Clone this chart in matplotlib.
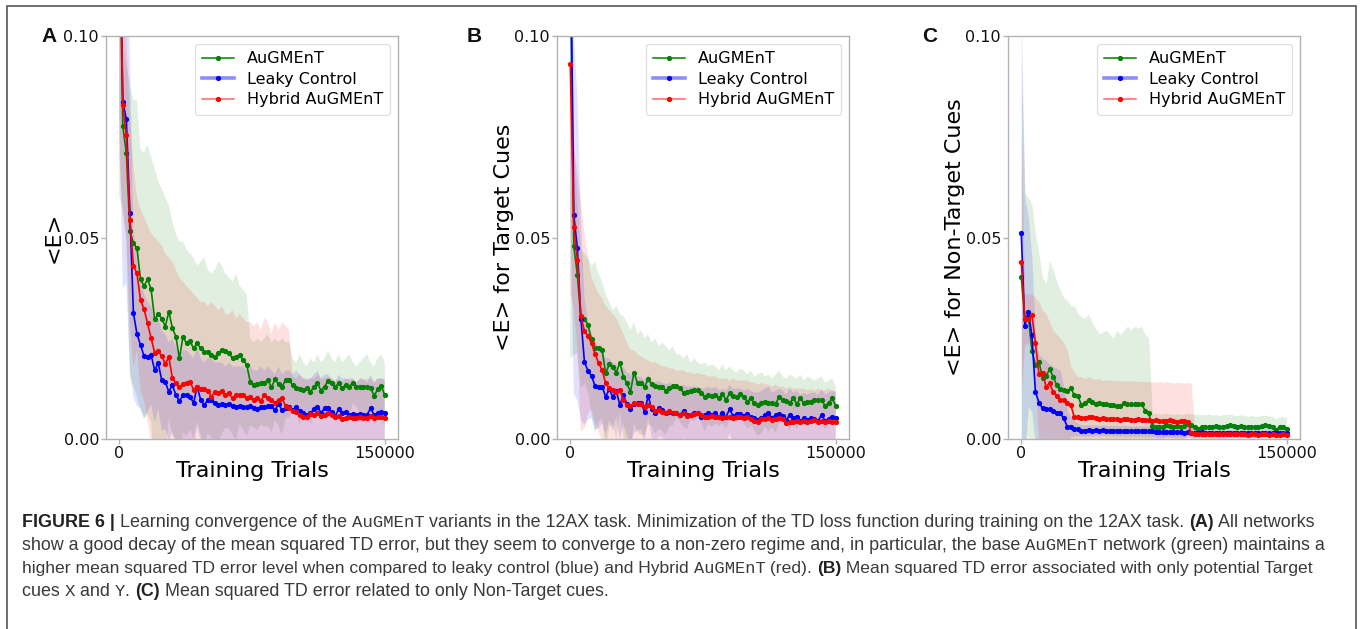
import numpy as np
import matplotlib
matplotlib.use("Agg")
import matplotlib.pyplot as plt
from matplotlib.lines import Line2D
from matplotlib.patches import Rectangle

# ---------------- data ----------------
trials = list(range(0, 150001, 2000))  # 76 evaluation points

# Panel A : <E>
a_green = [0.130, 0.0777, 0.0709, 0.0516, 0.0486, 0.0473, 0.0396, 0.0380, 0.0396, 0.0371,
           0.0297, 0.0310, 0.0299, 0.0279, 0.0316, 0.0275, 0.0254, 0.0200, 0.0254, 0.0237,
           0.0242, 0.0225, 0.0237, 0.0225, 0.0217, 0.0217, 0.0208, 0.0203, 0.0213, 0.0222,
           0.0219, 0.0213, 0.0200, 0.0204, 0.0208, 0.0196, 0.0184, 0.0142, 0.0134, 0.0136,
           0.0138, 0.0140, 0.0146, 0.0128, 0.0148, 0.0136, 0.0130, 0.0146, 0.0146, 0.0134,
           0.0126, 0.0123, 0.0122, 0.0126, 0.0117, 0.0130, 0.0138, 0.0120, 0.0130, 0.0145,
           0.0138, 0.0130, 0.0138, 0.0126, 0.0134, 0.0130, 0.0140, 0.0130, 0.0128, 0.0128,
           0.0128, 0.0127, 0.0107, 0.0123, 0.0132, 0.0109]
a_blue = [0.140, 0.0837, 0.0793, 0.0562, 0.0312, 0.0261, 0.0233, 0.0206, 0.0204, 0.0208,
          0.0171, 0.0188, 0.0146, 0.0142, 0.0117, 0.0134, 0.0109, 0.0094, 0.0109, 0.0109,
          0.0105, 0.0089, 0.0130, 0.0097, 0.0084, 0.0097, 0.0098, 0.0089, 0.0084, 0.0086,
          0.0084, 0.0087, 0.0082, 0.0079, 0.0082, 0.0079, 0.0079, 0.0082, 0.0076, 0.0074,
          0.0079, 0.0080, 0.0082, 0.0082, 0.0072, 0.0087, 0.0072, 0.0076, 0.0079, 0.0072,
          0.0079, 0.0070, 0.0065, 0.0060, 0.0064, 0.0074, 0.0080, 0.0065, 0.0076, 0.0076,
          0.0068, 0.0057, 0.0074, 0.0064, 0.0068, 0.0060, 0.0062, 0.0060, 0.0062, 0.0060,
          0.0060, 0.0076, 0.0060, 0.0064, 0.0068, 0.0064]
a_red = [0.135, 0.0829, 0.0754, 0.0543, 0.0429, 0.0411, 0.0345, 0.0322, 0.0287, 0.0250,
         0.0214, 0.0218, 0.0206, 0.0186, 0.0204, 0.0151, 0.0138, 0.0128, 0.0136, 0.0138,
         0.0142, 0.0122, 0.0130, 0.0123, 0.0123, 0.0120, 0.0105, 0.0117, 0.0115, 0.0120,
         0.0109, 0.0113, 0.0101, 0.0109, 0.0109, 0.0109, 0.0101, 0.0104, 0.0097, 0.0101,
         0.0095, 0.0109, 0.0101, 0.0097, 0.0089, 0.0097, 0.0101, 0.0082, 0.0076, 0.0070,
         0.0068, 0.0060, 0.0055, 0.0055, 0.0062, 0.0060, 0.0065, 0.0057, 0.0060, 0.0064,
         0.0060, 0.0055, 0.0057, 0.0049, 0.0053, 0.0055, 0.0051, 0.0053, 0.0055, 0.0051,
         0.0051, 0.0057, 0.0051, 0.0055, 0.0055, 0.0051]
# upper edge of the +/- std band
a_green_hi = [0.200, 0.098, 0.093, 0.088, 0.084, 0.084, 0.072, 0.071, 0.073, 0.070,
              0.067, 0.064, 0.062, 0.060, 0.058, 0.054, 0.051, 0.049, 0.049, 0.047,
              0.046, 0.045, 0.043, 0.044, 0.045, 0.042, 0.041, 0.042, 0.044, 0.043,
              0.041, 0.040, 0.039, 0.041, 0.038, 0.037, 0.036, 0.025, 0.024, 0.025,
              0.024, 0.025, 0.026, 0.024, 0.025, 0.024, 0.025, 0.024, 0.024, 0.020,
              0.019, 0.021, 0.019, 0.018, 0.020, 0.019, 0.021, 0.019, 0.020, 0.022,
              0.020, 0.019, 0.021, 0.019, 0.020, 0.021, 0.019, 0.018, 0.019, 0.020,
              0.021, 0.019, 0.018, 0.020, 0.021, 0.019]
a_blue_hi = [0.200, 0.130, 0.120, 0.095, 0.052, 0.044, 0.039, 0.036, 0.034, 0.033,
             0.030, 0.030, 0.027, 0.026, 0.024, 0.025, 0.023, 0.021, 0.022, 0.022,
             0.021, 0.020, 0.023, 0.020, 0.019, 0.020, 0.020, 0.019, 0.019, 0.019,
             0.018, 0.019, 0.018, 0.018, 0.018, 0.018, 0.017, 0.018, 0.017, 0.017,
             0.018, 0.017, 0.018, 0.017, 0.016, 0.018, 0.016, 0.017, 0.017, 0.016,
             0.017, 0.016, 0.015, 0.015, 0.015, 0.016, 0.017, 0.015, 0.016, 0.016,
             0.015, 0.014, 0.016, 0.015, 0.015, 0.015, 0.015, 0.014, 0.015, 0.015,
             0.014, 0.016, 0.014, 0.015, 0.015, 0.015]
a_red_hi = [0.200, 0.110, 0.100, 0.080, 0.068, 0.060, 0.057, 0.055, 0.053, 0.051,
            0.050, 0.049, 0.048, 0.046, 0.045, 0.044, 0.042, 0.040, 0.039, 0.038,
            0.037, 0.036, 0.035, 0.034, 0.034, 0.033, 0.034, 0.033, 0.032, 0.033,
            0.031, 0.031, 0.032, 0.030, 0.031, 0.030, 0.029, 0.029, 0.028, 0.029,
            0.027, 0.030, 0.029, 0.026, 0.029, 0.027, 0.029, 0.028, 0.027, 0.0155,
            0.015, 0.016, 0.015, 0.0145, 0.015, 0.015, 0.016, 0.015, 0.015, 0.0155,
            0.015, 0.0145, 0.015, 0.014, 0.015, 0.0145, 0.015, 0.014, 0.015, 0.0145,
            0.015, 0.015, 0.014, 0.015, 0.015, 0.0145]

# Panel B : <E> for Target Cues
b_green = [0.120, 0.0479, 0.0407, 0.0298, 0.0299, 0.0283, 0.0247, 0.0227, 0.0227, 0.0221,
           0.0163, 0.0185, 0.0179, 0.0165, 0.0189, 0.0155, 0.0138, 0.0117, 0.0165, 0.0138,
           0.0140, 0.0130, 0.0148, 0.0136, 0.0132, 0.0128, 0.0130, 0.0120, 0.0126, 0.0132,
           0.0132, 0.0126, 0.0115, 0.0117, 0.0120, 0.0122, 0.0122, 0.0113, 0.0105, 0.0109,
           0.0107, 0.0109, 0.0101, 0.0112, 0.0097, 0.0113, 0.0107, 0.0103, 0.0112, 0.0105,
           0.0093, 0.0101, 0.0089, 0.0084, 0.0089, 0.0093, 0.0089, 0.0090, 0.0087, 0.0105,
           0.0098, 0.0095, 0.0090, 0.0101, 0.0087, 0.0101, 0.0089, 0.0093, 0.0093, 0.0098,
           0.0097, 0.0097, 0.0082, 0.0089, 0.0101, 0.0082]
b_blue = [0.130, 0.0556, 0.0473, 0.0299, 0.0192, 0.0169, 0.0156, 0.0132, 0.0128, 0.0130,
          0.0105, 0.0123, 0.0105, 0.0120, 0.0084, 0.0109, 0.0087, 0.0074, 0.0087, 0.0089,
          0.0089, 0.0068, 0.0107, 0.0074, 0.0064, 0.0076, 0.0072, 0.0064, 0.0068, 0.0064,
          0.0064, 0.0060, 0.0070, 0.0060, 0.0060, 0.0064, 0.0065, 0.0054, 0.0060, 0.0064,
          0.0060, 0.0064, 0.0055, 0.0064, 0.0055, 0.0074, 0.0057, 0.0062, 0.0062, 0.0057,
          0.0062, 0.0054, 0.0051, 0.0047, 0.0051, 0.0060, 0.0064, 0.0051, 0.0060, 0.0062,
          0.0057, 0.0047, 0.0060, 0.0051, 0.0055, 0.0045, 0.0051, 0.0047, 0.0051, 0.0049,
          0.0045, 0.0060, 0.0045, 0.0049, 0.0054, 0.0051]
b_red = [0.0931, 0.0527, 0.0444, 0.0304, 0.0268, 0.0256, 0.0237, 0.0211, 0.0189, 0.0171,
         0.0138, 0.0126, 0.0122, 0.0117, 0.0122, 0.0097, 0.0084, 0.0082, 0.0089, 0.0087,
         0.0087, 0.0080, 0.0084, 0.0080, 0.0070, 0.0072, 0.0068, 0.0064, 0.0070, 0.0064,
         0.0065, 0.0060, 0.0064, 0.0057, 0.0060, 0.0062, 0.0064, 0.0060, 0.0054, 0.0055,
         0.0057, 0.0054, 0.0055, 0.0051, 0.0054, 0.0055, 0.0051, 0.0055, 0.0054, 0.0051,
         0.0055, 0.0049, 0.0045, 0.0043, 0.0049, 0.0049, 0.0051, 0.0047, 0.0049, 0.0051,
         0.0049, 0.0039, 0.0043, 0.0043, 0.0045, 0.0043, 0.0045, 0.0041, 0.0045, 0.0047,
         0.0043, 0.0045, 0.0043, 0.0045, 0.0043, 0.0043]
b_green_hi = [0.220, 0.075, 0.060, 0.047, 0.046, 0.045, 0.043, 0.044, 0.041, 0.039,
              0.036, 0.034, 0.032, 0.033, 0.031, 0.0305, 0.029, 0.027, 0.029, 0.026,
              0.027, 0.025, 0.026, 0.024, 0.025, 0.023, 0.024, 0.023, 0.022, 0.023,
              0.021, 0.021, 0.020, 0.021, 0.019, 0.020, 0.019, 0.0185, 0.019, 0.018,
              0.0185, 0.018, 0.017, 0.0185, 0.017, 0.018, 0.017, 0.0165, 0.0175, 0.017,
              0.016, 0.017, 0.0155, 0.016, 0.0165, 0.0155, 0.016, 0.015, 0.016, 0.017,
              0.0155, 0.015, 0.016, 0.0155, 0.015, 0.016, 0.0145, 0.0155, 0.015, 0.0145,
              0.015, 0.0155, 0.014, 0.0145, 0.015, 0.013]
b_blue_hi = [0.200, 0.100, 0.085, 0.055, 0.035, 0.029, 0.026, 0.024, 0.023, 0.022,
             0.020, 0.020, 0.019, 0.0185, 0.017, 0.018, 0.0165, 0.016, 0.016, 0.0155,
             0.0155, 0.0145, 0.016, 0.0145, 0.014, 0.0145, 0.014, 0.0135, 0.014, 0.0135,
             0.0135, 0.013, 0.0135, 0.013, 0.013, 0.013, 0.013, 0.0125, 0.0125, 0.013,
             0.0125, 0.013, 0.012, 0.0125, 0.012, 0.0135, 0.0125, 0.0125, 0.0125, 0.012,
             0.0125, 0.012, 0.0115, 0.0115, 0.012, 0.0125, 0.013, 0.0115, 0.012, 0.0125,
             0.012, 0.011, 0.0125, 0.0115, 0.012, 0.011, 0.0115, 0.011, 0.0115, 0.0115,
             0.011, 0.0125, 0.011, 0.0115, 0.012, 0.0115]
b_red_hi = [0.150, 0.073, 0.066, 0.059, 0.051, 0.045, 0.040, 0.038, 0.036, 0.035,
            0.033, 0.032, 0.031, 0.030, 0.028, 0.026, 0.024, 0.022, 0.022, 0.021,
            0.0205, 0.020, 0.0195, 0.019, 0.019, 0.0185, 0.018, 0.018, 0.0175, 0.0175,
            0.017, 0.017, 0.017, 0.0165, 0.0165, 0.016, 0.0165, 0.016, 0.016, 0.0155,
            0.0155, 0.0155, 0.015, 0.015, 0.015, 0.0145, 0.015, 0.0145, 0.0145, 0.0145,
            0.0145, 0.014, 0.014, 0.0135, 0.014, 0.0135, 0.0135, 0.013, 0.0135, 0.013,
            0.013, 0.0125, 0.013, 0.0125, 0.0125, 0.0125, 0.0125, 0.012, 0.0125, 0.012,
            0.0125, 0.012, 0.012, 0.0125, 0.012, 0.012]

# Panel C : <E> for Non-Target Cues
c_green = [0.0403, 0.0297, 0.0304, 0.0219, 0.0184, 0.0192, 0.0151, 0.0156, 0.0173, 0.0155,
           0.0134, 0.0123, 0.0122, 0.0120, 0.0126, 0.0109, 0.0107, 0.0084, 0.0089, 0.0097,
           0.0093, 0.0087, 0.0089, 0.0087, 0.0087, 0.0084, 0.0084, 0.0082, 0.0082, 0.0089,
           0.0087, 0.0087, 0.0087, 0.0087, 0.0087, 0.0070, 0.0064, 0.0032, 0.0031, 0.0031,
           0.0031, 0.0035, 0.0032, 0.0031, 0.0032, 0.0029, 0.0032, 0.0037, 0.0035, 0.0031,
           0.0026, 0.0029, 0.0029, 0.0031, 0.0029, 0.0032, 0.0029, 0.0031, 0.0032, 0.0035,
           0.0032, 0.0031, 0.0032, 0.0031, 0.0029, 0.0031, 0.0029, 0.0031, 0.0032, 0.0035,
           0.0032, 0.0031, 0.0022, 0.0031, 0.0031, 0.0026]
c_blue = [0.0510, 0.0280, 0.0316, 0.0258, 0.0117, 0.0090, 0.0076, 0.0074, 0.0074, 0.0070,
          0.0065, 0.0064, 0.0051, 0.0031, 0.0031, 0.0026, 0.0024, 0.0021, 0.0021, 0.0022,
          0.0021, 0.0022, 0.0021, 0.0022, 0.0021, 0.0021, 0.0020, 0.0021, 0.0020, 0.0020,
          0.0020, 0.0019, 0.0019, 0.0020, 0.0019, 0.0019, 0.0019, 0.0019, 0.0018, 0.0017,
          0.0017, 0.0017, 0.0018, 0.0017, 0.0017, 0.0017, 0.0016, 0.0017, 0.0016, 0.0016,
          0.0016, 0.0017, 0.0016, 0.0016, 0.0016, 0.0015, 0.0016, 0.0016, 0.0016, 0.0015,
          0.0016, 0.0016, 0.0015, 0.0016, 0.0016, 0.0015, 0.0016, 0.0015, 0.0015, 0.0016,
          0.0015, 0.0015, 0.0016, 0.0015, 0.0015, 0.0015]
c_red = [0.0440, 0.0299, 0.0297, 0.0308, 0.0239, 0.0161, 0.0165, 0.0130, 0.0138, 0.0117,
         0.0107, 0.0097, 0.0097, 0.0090, 0.0084, 0.0054, 0.0054, 0.0051, 0.0051, 0.0055,
         0.0054, 0.0051, 0.0050, 0.0051, 0.0049, 0.0050, 0.0049, 0.0049, 0.0048, 0.0049,
         0.0049, 0.0048, 0.0048, 0.0049, 0.0048, 0.0047, 0.0048, 0.0045, 0.0046, 0.0045,
         0.0044, 0.0045, 0.0046, 0.0044, 0.0043, 0.0044, 0.0045, 0.0043, 0.0014, 0.0013,
         0.0013, 0.0012, 0.0013, 0.0013, 0.0012, 0.0013, 0.0012, 0.0012, 0.0013, 0.0012,
         0.0012, 0.0013, 0.0012, 0.0012, 0.0011, 0.0012, 0.0012, 0.0011, 0.0012, 0.0012,
         0.0011, 0.0012, 0.0011, 0.0011, 0.0012, 0.0011]
c_green_hi = [0.0936, 0.061, 0.060, 0.058, 0.051, 0.046, 0.040, 0.0386, 0.0444, 0.042,
              0.039, 0.037, 0.035, 0.0345, 0.033, 0.033, 0.031, 0.0304, 0.030, 0.031,
              0.029, 0.0275, 0.026, 0.0265, 0.027, 0.026, 0.025, 0.027, 0.026, 0.027,
              0.028, 0.027, 0.028, 0.0275, 0.028, 0.026, 0.025, 0.0062, 0.0063, 0.0061,
              0.0062, 0.0064, 0.0062, 0.0061, 0.0063, 0.0060, 0.0062, 0.0064, 0.0063, 0.0062,
              0.0060, 0.0061, 0.0060, 0.0062, 0.0059, 0.0061, 0.0058, 0.0060, 0.0061, 0.0062,
              0.0059, 0.0058, 0.0060, 0.0058, 0.0056, 0.0058, 0.0056, 0.0057, 0.0058, 0.0059,
              0.0057, 0.0056, 0.0050, 0.0055, 0.0056, 0.0052]
c_blue_hi = [0.105, 0.060, 0.055, 0.045, 0.025, 0.021, 0.020, 0.0195, 0.0185, 0.018,
             0.0175, 0.017, 0.013, 0.007, 0.0055, 0.0045, 0.0040, 0.0035, 0.0035, 0.0036,
             0.0035, 0.0035, 0.0034, 0.0035, 0.0034, 0.0034, 0.0033, 0.0034, 0.0033, 0.0033,
             0.0033, 0.0032, 0.0032, 0.0033, 0.0032, 0.0032, 0.0032, 0.0032, 0.0031, 0.0030,
             0.0030, 0.0030, 0.0031, 0.0030, 0.0030, 0.0030, 0.0029, 0.0030, 0.0029, 0.0029,
             0.0029, 0.0030, 0.0029, 0.0029, 0.0029, 0.0028, 0.0029, 0.0029, 0.0029, 0.0028,
             0.0029, 0.0029, 0.0028, 0.0029, 0.0029, 0.0028, 0.0029, 0.0028, 0.0028, 0.0029,
             0.0028, 0.0028, 0.0029, 0.0028, 0.0028, 0.0028]
c_red_hi = [0.076, 0.036, 0.036, 0.036, 0.035, 0.034, 0.032, 0.031, 0.029, 0.027,
            0.026, 0.025, 0.024, 0.022, 0.018, 0.0165, 0.0155, 0.0155, 0.015, 0.0155,
            0.015, 0.0148, 0.015, 0.0145, 0.0147, 0.0146, 0.0144, 0.0146, 0.0143, 0.0145,
            0.0144, 0.0143, 0.0145, 0.0142, 0.0144, 0.0143, 0.0142, 0.0142, 0.0141, 0.0143,
            0.0140, 0.0142, 0.0141, 0.0139, 0.0141, 0.0140, 0.0139, 0.0140, 0.0138, 0.0020,
            0.0019, 0.0019, 0.0020, 0.0019, 0.0019, 0.0020, 0.0019, 0.0019, 0.0020, 0.0019,
            0.0019, 0.0020, 0.0019, 0.0019, 0.0018, 0.0019, 0.0019, 0.0018, 0.0019, 0.0019,
            0.0018, 0.0019, 0.0018, 0.0018, 0.0019, 0.0018]

series_names = ["AuGMEnT", "Leaky Control", "Hybrid AuGMEnT"]
series_colors = ["green", "blue", "red"]
panel_letters = ["A", "B", "C"]
panel_ylabels = ["<E>", "<E> for Target Cues", "<E> for Non-Target Cues"]
xtick_values = [0, 150000]
ytick_values = [0.00, 0.05, 0.10]
ytick_labels = ["0.00", "0.05", "0.10"]
xlabel_text = "Training Trials"

panels = [
    [(a_green, a_green_hi), (a_blue, a_blue_hi), (a_red, a_red_hi)],
    [(b_green, b_green_hi), (b_blue, b_blue_hi), (b_red, b_red_hi)],
    [(c_green, c_green_hi), (c_blue, c_blue_hi), (c_red, c_red_hi)],
]

# ---------------- figure ----------------
W, H = 1360, 629
fig = plt.figure(figsize=(W / 100, H / 100), dpi=100)
fig.patch.set_facecolor("white")

spine_col = "#b3b3b3"
ax_lefts = [106, 557, 1008]
x = np.array(trials, dtype=float)

for p, left in enumerate(ax_lefts):
    ax = fig.add_axes([left / W, 1 - 439 / H, 292 / W, 403 / H])
    for k, (mean, hi) in enumerate(panels[p]):
        m = np.array(mean)
        u = np.array(hi)
        lo = 2 * m - u
        ax.fill_between(x, lo, u, color=series_colors[k], alpha=0.12, linewidth=0)
    for k, (mean, hi) in enumerate(panels[p]):
        ax.plot(x, mean, color=series_colors[k], lw=1.2, marker=".", ms=5.5,
                label=series_names[k])
    ax.set_ylim(0, 0.1)
    ax.set_xlim(-7500, 157500)
    ax.set_xticks(xtick_values)
    ax.set_xticklabels([str(v) for v in xtick_values])
    ax.set_yticks(ytick_values)
    ax.set_yticklabels(ytick_labels)
    ax.tick_params(labelsize=11.5, color=spine_col, length=3.5, width=1,
                   labelcolor="#111111", pad=1.5)
    for s in ax.spines.values():
        s.set_color(spine_col)
        s.set_linewidth(1.0)
    ax.set_xlabel(xlabel_text, fontsize=16, labelpad=0)
    ax.set_ylabel(panel_ylabels[p], fontsize=16, labelpad=0)

    h_green = Line2D([], [], color="green", lw=1.1, marker=".", ms=5.5)
    h_blue = (Line2D([], [], color="blue", lw=2.6, alpha=0.45),
              Line2D([], [], color="blue", lw=0, marker=".", ms=5.5))
    h_red = (Line2D([], [], color="red", lw=1.1, alpha=0.6),
             Line2D([], [], color="red", lw=0, marker=".", ms=5.5))
    leg = ax.legend([h_green, h_blue, h_red], series_names, loc="upper right",
                    fontsize=11.5, labelspacing=0.35, handlelength=2.0,
                    borderpad=0.45, framealpha=1.0, fancybox=True)
    leg.get_frame().set_edgecolor("#dddddd")
    leg.get_frame().set_linewidth(0.8)

# panel letters
for letter, lx in zip(panel_letters, [41, 467, 922]):
    fig.text(lx / W, 1 - 42 / H, letter, fontsize=15, fontweight="bold",
             family="Liberation Sans", va="baseline", ha="left", color="#111111")

# outer frame
fig.add_artist(Rectangle((7 / W, -0.05), (1356 - 7) / W, 1.05 - 6 / H,
                         transform=fig.transFigure, fill=False,
                         edgecolor="#555555", lw=1.2))

# ---------------- caption ----------------
cap_lines = [
    [("FIGURE 6 |", "b"), (" Learning convergence of the ", "r"), ("AuGMEnT", "m"),
     (" variants in the 12AX task. Minimization of the TD loss function during training on the 12AX task. ", "r"),
     ("(A)", "b"), (" All networks", "r")],
    [("show a good decay of the mean squared TD error, but they seem to converge to a non-zero regime and, in particular, the base ", "r"),
     ("AuGMEnT", "m"), (" network (green) maintains a", "r")],
    [("higher mean squared TD error level when compared to leaky control (blue) and Hybrid ", "r"),
     ("AuGMEnT", "m"), (" (red). ", "r"), ("(B)", "b"),
     (" Mean squared TD error associated with only potential Target", "r")],
    [("cues ", "r"), ("X", "m"), (" and ", "r"), ("Y", "m"), (". ", "r"), ("(C)", "b"),
     (" Mean squared TD error related to only Non-Target cues.", "r")],
]
cap_baselines = [527, 550, 573, 596]
cap_right_ends = [1318, 1328, 1317, None]
cap_left = 22
styles = {
    "r": dict(family="Liberation Sans", fontweight="normal", color="#3a3a3a"),
    "b": dict(family="Liberation Sans", fontweight="bold", color="#222222"),
    "m": dict(family="Liberation Mono", fontweight="normal", color="#3a3a3a"),
}

renderer = fig.canvas.get_renderer()


def draw_line(pieces, yb, size, keep=True):
    xp = cap_left
    created = []
    for txt, st in pieces:
        fs = size * (0.97 if st == "m" else 1.0)
        t = fig.text(xp / W, 1 - yb / H, txt, fontsize=fs, va="baseline",
                     ha="left", **styles[st])
        xp += t.get_window_extent(renderer).width
        created.append(t)
    if not keep:
        for t in created:
            t.remove()
    return xp - cap_left


base_size = None
for pieces, yb, xend in zip(cap_lines, cap_baselines, cap_right_ends):
    if xend is None:
        size = base_size
    else:
        w = draw_line(pieces, yb, 10.0, keep=False)
        size = 10.0 * (xend - cap_left) / w
        if base_size is None:
            base_size = size
    draw_line(pieces, yb, size, keep=True)

fig.savefig("out.png", dpi=100, facecolor="white")
